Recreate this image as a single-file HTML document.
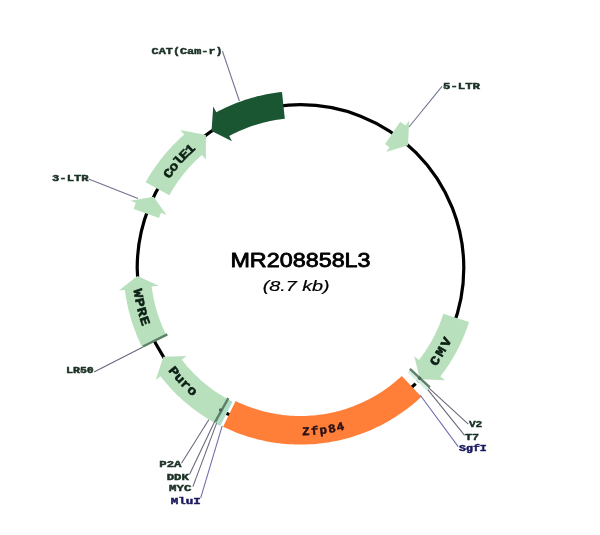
<!DOCTYPE html>
<html><head><meta charset="utf-8"><title>MR208858L3</title>
<style>
html,body{margin:0;padding:0;background:#fff;}
body{width:600px;height:535px;overflow:hidden;font-family:"Liberation Sans",sans-serif;}
svg{display:block;will-change:transform;}
</style></head><body>
<svg width="600" height="535" viewBox="0 0 600 535">
<g opacity="0.999">
<circle cx="300.50" cy="268.00" r="163.30" fill="none" stroke="#000" stroke-width="3.2"/>
<path d="M282.00,91.97 L278.87,92.33 L275.76,92.74 L272.64,93.21 L269.54,93.73 L266.45,94.31 L263.37,94.94 L260.30,95.63 L257.24,96.37 L254.20,97.16 L251.17,98.01 L248.16,98.92 L245.16,99.87 L242.18,100.88 L239.22,101.94 L236.28,103.06 L233.36,104.23 L230.46,105.45 L227.59,106.72 L224.73,108.04 L221.90,109.41 L219.09,110.83 L216.31,112.30 L213.22,106.58 L211.56,131.05 L232.01,141.33 L229.16,136.05 L231.51,134.81 L233.89,133.60 L236.29,132.44 L238.71,131.32 L241.15,130.24 L243.60,129.21 L246.08,128.22 L248.57,127.28 L251.08,126.37 L253.60,125.52 L256.14,124.71 L258.70,123.94 L261.26,123.22 L263.84,122.55 L266.43,121.92 L269.03,121.34 L271.65,120.80 L274.27,120.31 L276.89,119.87 L279.53,119.47 L282.17,119.12 L284.82,118.82Z" fill="#1a5632"/>
<path d="M145.69,182.19 L147.29,179.37 L148.93,176.59 L150.63,173.83 L152.37,171.11 L154.17,168.42 L156.02,165.76 L157.91,163.14 L159.85,160.55 L161.84,157.99 L163.87,155.48 L165.95,153.00 L168.07,150.56 L170.24,148.16 L172.46,145.80 L174.71,143.48 L177.01,141.20 L179.35,138.96 L181.73,136.77 L184.14,134.62 L180.20,130.10 L205.90,134.89 L205.84,159.49 L201.89,154.97 L199.84,156.79 L197.83,158.65 L195.85,160.54 L193.90,162.47 L191.99,164.44 L190.11,166.44 L188.28,168.47 L186.47,170.54 L184.71,172.64 L182.99,174.77 L181.30,176.94 L179.66,179.13 L178.06,181.36 L176.49,183.61 L174.97,185.89 L173.49,188.20 L172.05,190.53 L170.66,192.89 L169.31,195.28Z" fill="#b9e0bc"/>
<path d="M133.65,208.92 L134.76,205.87 L135.93,202.84 L130.35,200.63 L153.60,196.67 L166.61,214.99 L161.03,212.78 L160.05,215.35 L159.10,217.93Z" fill="#b9e0bc"/>
<path d="M142.10,346.98 L140.71,344.14 L139.38,341.28 L138.10,338.40 L136.87,335.49 L135.70,332.57 L134.57,329.62 L133.50,326.65 L132.48,323.67 L131.52,320.67 L130.61,317.65 L129.75,314.61 L128.94,311.56 L128.20,308.50 L127.50,305.42 L126.86,302.33 L126.28,299.23 L125.75,296.12 L125.27,293.00 L124.86,289.88 L118.90,290.62 L137.39,275.98 L158.79,285.65 L151.65,286.54 L152.00,289.19 L152.41,291.83 L152.85,294.47 L153.35,297.09 L153.89,299.71 L154.48,302.32 L155.11,304.92 L155.79,307.50 L156.52,310.07 L157.29,312.63 L158.11,315.18 L158.98,317.71 L159.88,320.22 L160.84,322.72 L161.83,325.20 L162.88,327.66 L163.96,330.10 L165.09,332.53 L166.26,334.93Z" fill="#b9e0bc"/>
<path d="M220.14,425.71 L217.37,424.26 L214.62,422.77 L211.90,421.23 L209.21,419.64 L206.55,418.01 L203.91,416.32 L201.31,414.59 L198.73,412.82 L196.19,411.00 L193.68,409.14 L191.21,407.23 L188.76,405.27 L186.36,403.28 L183.99,401.24 L181.65,399.16 L179.35,397.04 L177.09,394.88 L174.87,392.69 L172.69,390.45 L170.55,388.17 L168.44,385.86 L166.38,383.51 L164.36,381.12 L162.39,378.70 L160.45,376.24 L155.71,379.91 L163.39,356.70 L186.56,356.06 L181.82,359.73 L183.46,361.81 L185.13,363.86 L186.84,365.89 L188.59,367.88 L190.37,369.84 L192.19,371.77 L194.03,373.67 L195.92,375.53 L197.83,377.36 L199.78,379.16 L201.76,380.92 L203.77,382.64 L205.81,384.33 L207.88,385.99 L209.98,387.61 L212.10,389.19 L214.26,390.73 L216.44,392.23 L218.65,393.70 L220.88,395.12 L223.14,396.51 L225.42,397.86 L227.72,399.16 L230.05,400.43 L232.40,401.65Z" fill="#b9e0bc"/>
<path d="M223.08,426.73 L225.87,428.06 L228.69,429.34 L231.52,430.57 L234.38,431.75 L237.25,432.89 L240.15,433.97 L243.06,435.00 L246.00,435.98 L248.94,436.91 L251.91,437.78 L254.89,438.61 L257.88,439.38 L260.89,440.10 L263.91,440.77 L266.93,441.38 L269.97,441.94 L273.02,442.45 L276.08,442.90 L279.15,443.30 L282.22,443.65 L285.30,443.94 L288.38,444.18 L291.46,444.37 L294.55,444.50 L297.64,444.58 L300.73,444.60 L303.82,444.57 L306.91,444.48 L310.00,444.34 L313.09,444.15 L316.17,443.90 L319.24,443.60 L322.31,443.25 L325.38,442.84 L328.44,442.38 L331.48,441.86 L334.52,441.29 L337.55,440.67 L340.57,440.00 L343.57,439.27 L346.56,438.49 L349.54,437.66 L352.50,436.77 L355.45,435.83 L358.38,434.85 L361.29,433.81 L364.18,432.72 L367.05,431.58 L369.91,430.39 L372.74,429.15 L375.55,427.86 L378.33,426.52 L381.10,425.14 L383.83,423.70 L386.55,422.22 L389.23,420.69 L391.89,419.11 L394.52,417.49 L397.12,415.82 L399.70,414.11 L402.24,412.35 L404.75,410.55 L407.23,408.70 L409.68,406.81 L412.09,404.88 L414.47,402.90 L416.81,400.89 L419.12,398.83 L421.39,396.74 L401.81,375.89 L399.91,377.64 L397.97,379.37 L396.01,381.06 L394.02,382.71 L392.00,384.33 L389.94,385.91 L387.87,387.46 L385.76,388.97 L383.63,390.45 L381.48,391.88 L379.30,393.28 L377.09,394.64 L374.86,395.96 L372.61,397.24 L370.34,398.49 L368.04,399.69 L365.73,400.85 L363.39,401.97 L361.04,403.05 L358.67,404.09 L356.27,405.09 L353.87,406.04 L351.44,406.96 L349.00,407.83 L346.55,408.65 L344.08,409.44 L341.60,410.18 L339.10,410.88 L336.59,411.53 L334.08,412.14 L331.55,412.71 L329.01,413.23 L326.47,413.70 L323.91,414.14 L321.35,414.52 L318.78,414.87 L316.21,415.16 L313.63,415.42 L311.05,415.62 L308.46,415.79 L305.87,415.90 L303.29,415.97 L300.69,416.00 L298.10,415.98 L295.51,415.92 L292.93,415.81 L290.34,415.65 L287.76,415.45 L285.18,415.20 L282.60,414.91 L280.04,414.58 L277.47,414.20 L274.92,413.77 L272.37,413.30 L269.83,412.79 L267.30,412.23 L264.78,411.63 L262.27,410.98 L259.78,410.29 L257.29,409.55 L254.82,408.77 L252.37,407.95 L249.92,407.09 L247.50,406.18 L245.09,405.23 L242.69,404.24 L240.32,403.21 L237.96,402.14 L235.62,401.02Z" fill="#ff7f38"/>
<path d="M469.03,322.11 L468.06,325.04 L467.04,327.96 L465.96,330.85 L464.84,333.73 L463.67,336.59 L462.45,339.43 L461.18,342.24 L459.86,345.04 L458.49,347.81 L457.07,350.55 L455.61,353.27 L454.09,355.96 L452.54,358.63 L450.93,361.27 L449.28,363.88 L447.58,366.46 L445.84,369.02 L444.06,371.54 L442.23,374.03 L440.36,376.48 L445.10,380.16 L419.93,379.37 L414.28,356.26 L419.02,359.94 L420.61,357.85 L422.16,355.74 L423.67,353.61 L425.15,351.44 L426.58,349.26 L427.98,347.04 L429.34,344.81 L430.66,342.55 L431.95,340.26 L433.19,337.96 L434.39,335.63 L435.55,333.28 L436.67,330.92 L437.74,328.53 L438.78,326.13 L439.77,323.71 L440.72,321.27 L441.63,318.81 L442.50,316.34 L443.32,313.85Z" fill="#b9e0bc"/>
<path d="M400.24,121.78 L402.91,123.63 L405.54,125.53 L409.10,120.70 L408.06,145.13 L385.95,152.10 L389.51,147.27 L387.29,145.66 L385.03,144.09Z" fill="#b9e0bc"/>
<path d="M214.69,422.81 L217.40,424.28 L220.14,425.71 L232.40,401.65 L230.08,400.44 L227.78,399.19Z" fill="#addfc6"/>
<path d="M429.22,388.03 L426.68,390.70 L407.68,372.23 L409.84,369.96Z" fill="#d6eee2"/>
<path d="M421.66,385.82 L419.79,387.71 L412.03,379.92 L413.77,378.15Z" fill="#ffffff"/>
<line x1="167.33" y1="334.39" x2="142.99" y2="346.53" stroke="#5f8068" stroke-width="2.40"/>
<line x1="228.36" y1="398.14" x2="215.17" y2="421.93" stroke="#5f8068" stroke-width="2.40"/>
<line x1="409.86" y1="368.91" x2="429.84" y2="387.36" stroke="#5f8068" stroke-width="2.40"/>
<circle cx="220.6" cy="410.0" r="1.7" fill="#48664f"/>
<circle cx="419.6" cy="378.2" r="1.7" fill="#48664f"/>
<line x1="222.40" y1="51.00" x2="239.40" y2="101.00" stroke="#717190" stroke-width="1.05"/>
<line x1="88.60" y1="179.00" x2="138.00" y2="198.40" stroke="#717190" stroke-width="1.05"/>
<line x1="442.00" y1="86.40" x2="409.00" y2="127.00" stroke="#717190" stroke-width="1.05"/>
<line x1="94.00" y1="372.00" x2="143.00" y2="347.00" stroke="#66667a" stroke-width="1.05"/>
<line x1="428.70" y1="387.80" x2="468.30" y2="424.20" stroke="#66667a" stroke-width="1.05"/>
<line x1="427.80" y1="389.60" x2="464.60" y2="435.40" stroke="#66667a" stroke-width="1.05"/>
<line x1="420.30" y1="395.20" x2="458.20" y2="446.60" stroke="#6a6aac" stroke-width="1.05"/>
<line x1="208.80" y1="419.70" x2="181.50" y2="463.30" stroke="#66667a" stroke-width="1.05"/>
<line x1="214.80" y1="421.20" x2="189.50" y2="474.50" stroke="#66667a" stroke-width="1.05"/>
<line x1="216.60" y1="423.10" x2="192.90" y2="486.60" stroke="#66667a" stroke-width="1.05"/>
<line x1="222.20" y1="425.90" x2="200.70" y2="497.90" stroke="#6a6aac" stroke-width="1.05"/>
<text x="151.60" y="54.00" font-family="Liberation Mono, monospace" font-weight="bold" font-size="9.40" fill="#1a3024" stroke="#1a3024" stroke-width="0.45" textLength="71.00" lengthAdjust="spacingAndGlyphs">CAT(Cam-r)</text>
<text x="52.00" y="180.60" font-family="Liberation Mono, monospace" font-weight="bold" font-size="9.40" fill="#1a3024" stroke="#1a3024" stroke-width="0.45" textLength="36.60" lengthAdjust="spacingAndGlyphs">3-LTR</text>
<text x="443.00" y="88.60" font-family="Liberation Mono, monospace" font-weight="bold" font-size="9.40" fill="#1a3024" stroke="#1a3024" stroke-width="0.45" textLength="37.00" lengthAdjust="spacingAndGlyphs">5-LTR</text>
<text x="66.00" y="373.40" font-family="Liberation Mono, monospace" font-weight="bold" font-size="9.40" fill="#1a3024" stroke="#1a3024" stroke-width="0.45" textLength="27.80" lengthAdjust="spacingAndGlyphs">LR50</text>
<text x="468.90" y="427.00" font-family="Liberation Mono, monospace" font-weight="bold" font-size="9.40" fill="#1a3024" stroke="#1a3024" stroke-width="0.45" textLength="13.40" lengthAdjust="spacingAndGlyphs">V2</text>
<text x="465.10" y="439.50" font-family="Liberation Mono, monospace" font-weight="bold" font-size="9.40" fill="#1a3024" stroke="#1a3024" stroke-width="0.45" textLength="14.00" lengthAdjust="spacingAndGlyphs">T7</text>
<text x="459.00" y="450.90" font-family="Liberation Mono, monospace" font-weight="bold" font-size="9.40" fill="#18185e" stroke="#18185e" stroke-width="0.45" textLength="27.80" lengthAdjust="spacingAndGlyphs">SgfI</text>
<text x="159.30" y="467.00" font-family="Liberation Mono, monospace" font-weight="bold" font-size="9.40" fill="#1a3024" stroke="#1a3024" stroke-width="0.45" textLength="22.20" lengthAdjust="spacingAndGlyphs">P2A</text>
<text x="166.70" y="479.70" font-family="Liberation Mono, monospace" font-weight="bold" font-size="9.40" fill="#1a3024" stroke="#1a3024" stroke-width="0.45" textLength="22.30" lengthAdjust="spacingAndGlyphs">DDK</text>
<text x="169.00" y="490.70" font-family="Liberation Mono, monospace" font-weight="bold" font-size="9.40" fill="#1a3024" stroke="#1a3024" stroke-width="0.45" textLength="22.40" lengthAdjust="spacingAndGlyphs">MYC</text>
<text x="170.80" y="503.50" font-family="Liberation Mono, monospace" font-weight="bold" font-size="9.40" fill="#18185e" stroke="#18185e" stroke-width="0.45" textLength="29.90" lengthAdjust="spacingAndGlyphs">MluI</text>
<text transform="translate(171.78 175.68) rotate(-54.35) scale(1.160 1)" text-anchor="middle" font-family="Liberation Mono, monospace" font-weight="bold" font-size="12.80" fill="#0c1f15" stroke="#0c1f15" stroke-width="0.55">C</text>
<text transform="translate(176.58 169.34) rotate(-51.48) scale(1.160 1)" text-anchor="middle" font-family="Liberation Mono, monospace" font-weight="bold" font-size="12.80" fill="#0c1f15" stroke="#0c1f15" stroke-width="0.55">o</text>
<text transform="translate(181.68 163.25) rotate(-48.60) scale(1.160 1)" text-anchor="middle" font-family="Liberation Mono, monospace" font-weight="bold" font-size="12.80" fill="#0c1f15" stroke="#0c1f15" stroke-width="0.55">l</text>
<text transform="translate(187.09 157.42) rotate(-45.72) scale(1.160 1)" text-anchor="middle" font-family="Liberation Mono, monospace" font-weight="bold" font-size="12.80" fill="#0c1f15" stroke="#0c1f15" stroke-width="0.55">E</text>
<text transform="translate(192.78 151.87) rotate(-42.85) scale(1.160 1)" text-anchor="middle" font-family="Liberation Mono, monospace" font-weight="bold" font-size="12.80" fill="#0c1f15" stroke="#0c1f15" stroke-width="0.55">1</text>
<text transform="translate(134.10 293.91) rotate(81.15) scale(1.160 1)" text-anchor="middle" font-family="Liberation Mono, monospace" font-weight="bold" font-size="12.80" fill="#0c1f15" stroke="#0c1f15" stroke-width="0.55">W</text>
<text transform="translate(135.87 303.44) rotate(77.85) scale(1.160 1)" text-anchor="middle" font-family="Liberation Mono, monospace" font-weight="bold" font-size="12.80" fill="#0c1f15" stroke="#0c1f15" stroke-width="0.55">P</text>
<text transform="translate(138.19 312.86) rotate(74.55) scale(1.160 1)" text-anchor="middle" font-family="Liberation Mono, monospace" font-weight="bold" font-size="12.80" fill="#0c1f15" stroke="#0c1f15" stroke-width="0.55">R</text>
<text transform="translate(141.04 322.13) rotate(71.25) scale(1.160 1)" text-anchor="middle" font-family="Liberation Mono, monospace" font-weight="bold" font-size="12.80" fill="#0c1f15" stroke="#0c1f15" stroke-width="0.55">E</text>
<text transform="translate(170.75 373.93) rotate(50.77) scale(1.160 1)" text-anchor="middle" font-family="Liberation Mono, monospace" font-weight="bold" font-size="12.80" fill="#0c1f15" stroke="#0c1f15" stroke-width="0.55">P</text>
<text transform="translate(176.70 380.82) rotate(47.66) scale(1.160 1)" text-anchor="middle" font-family="Liberation Mono, monospace" font-weight="bold" font-size="12.80" fill="#0c1f15" stroke="#0c1f15" stroke-width="0.55">u</text>
<text transform="translate(183.01 387.38) rotate(44.54) scale(1.160 1)" text-anchor="middle" font-family="Liberation Mono, monospace" font-weight="bold" font-size="12.80" fill="#0c1f15" stroke="#0c1f15" stroke-width="0.55">r</text>
<text transform="translate(189.66 393.58) rotate(41.43) scale(1.160 1)" text-anchor="middle" font-family="Liberation Mono, monospace" font-weight="bold" font-size="12.80" fill="#0c1f15" stroke="#0c1f15" stroke-width="0.55">o</text>
<text transform="translate(306.06 435.21) rotate(358.10) scale(1.060 1)" text-anchor="middle" font-family="Liberation Mono, monospace" font-weight="bold" font-size="11.80" fill="#2a1216" stroke="#2a1216" stroke-width="0.45">Z</text>
<text transform="translate(314.94 434.68) rotate(355.05) scale(1.060 1)" text-anchor="middle" font-family="Liberation Mono, monospace" font-weight="bold" font-size="11.80" fill="#2a1216" stroke="#2a1216" stroke-width="0.45">f</text>
<text transform="translate(323.78 433.67) rotate(352.00) scale(1.060 1)" text-anchor="middle" font-family="Liberation Mono, monospace" font-weight="bold" font-size="11.80" fill="#2a1216" stroke="#2a1216" stroke-width="0.45">p</text>
<text transform="translate(332.56 432.20) rotate(348.95) scale(1.060 1)" text-anchor="middle" font-family="Liberation Mono, monospace" font-weight="bold" font-size="11.80" fill="#2a1216" stroke="#2a1216" stroke-width="0.45">8</text>
<text transform="translate(341.25 430.26) rotate(345.90) scale(1.060 1)" text-anchor="middle" font-family="Liberation Mono, monospace" font-weight="bold" font-size="11.80" fill="#2a1216" stroke="#2a1216" stroke-width="0.45">4</text>
<text transform="translate(438.44 363.02) rotate(304.56) scale(1.160 1)" text-anchor="middle" font-family="Liberation Mono, monospace" font-weight="bold" font-size="12.80" fill="#0c1f15" stroke="#0c1f15" stroke-width="0.55">C</text>
<text transform="translate(444.38 353.77) rotate(300.80) scale(1.160 1)" text-anchor="middle" font-family="Liberation Mono, monospace" font-weight="bold" font-size="12.80" fill="#0c1f15" stroke="#0c1f15" stroke-width="0.55">M</text>
<text transform="translate(449.69 344.14) rotate(297.04) scale(1.160 1)" text-anchor="middle" font-family="Liberation Mono, monospace" font-weight="bold" font-size="12.80" fill="#0c1f15" stroke="#0c1f15" stroke-width="0.55">V</text>
<text x="230.4" y="267.2" font-family="Liberation Sans, sans-serif" font-size="20" fill="#000" stroke="#000" stroke-width="0.8" stroke-linejoin="round" textLength="140.2" lengthAdjust="spacingAndGlyphs">MR208858L3</text>
<text x="262.7" y="291.2" font-family="Liberation Sans, sans-serif" font-style="italic" font-size="15.4" fill="#000" stroke="#000" stroke-width="0.22" textLength="67.0" lengthAdjust="spacingAndGlyphs">(8.7 kb)</text>
</g>
</svg>
</body></html>
